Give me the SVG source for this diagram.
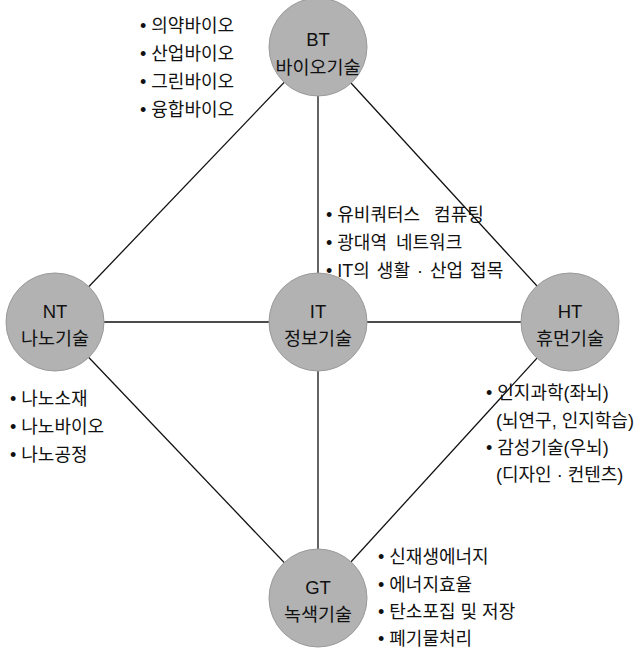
<svg xmlns="http://www.w3.org/2000/svg" width="636" height="653" viewBox="0 0 636 653">
<style>
.ln{stroke:#111;stroke-width:1.3;fill:none}
.c{fill:#b2b2b2;stroke:#9a9a9a;stroke-width:1}
.ct{font-family:"Liberation Sans","Noto Sans CJK KR",sans-serif;font-size:18.5px;fill:#111;text-anchor:middle}
.t{font-family:"Liberation Sans","Noto Sans CJK KR",sans-serif;font-size:18px;fill:#111}
</style>
<rect width="636" height="653" fill="#fff"/>
<g id="connectors">
<line class="ln" x1="318" y1="47" x2="55" y2="322"/>
<line class="ln" x1="318" y1="47" x2="570" y2="322"/>
<line class="ln" x1="55" y1="322" x2="318" y2="598"/>
<line class="ln" x1="570" y1="322" x2="318" y2="598"/>
<line class="ln" x1="318" y1="47" x2="318" y2="598"/>
<line class="ln" x1="55" y1="322" x2="570" y2="322"/>
</g>
<g id="BT">
<circle class="c" cx="318" cy="47" r="49"/>
<text class="ct" x="318" y="46">BT</text>
<text class="ct" x="318" y="74">바이오기술</text>
</g>
<g id="NT">
<circle class="c" cx="55" cy="322" r="49"/>
<text class="ct" x="55" y="318">NT</text>
<text class="ct" x="55" y="345">나노기술</text>
</g>
<g id="IT">
<circle class="c" cx="318" cy="322" r="49"/>
<text class="ct" x="318" y="318">IT</text>
<text class="ct" x="318" y="345">정보기술</text>
</g>
<g id="HT">
<circle class="c" cx="570" cy="322" r="49"/>
<text class="ct" x="570" y="318">HT</text>
<text class="ct" x="570" y="345">휴먼기술</text>
</g>
<g id="GT">
<circle class="c" cx="318" cy="598" r="49"/>
<text class="ct" x="318" y="594">GT</text>
<text class="ct" x="318" y="621">녹색기술</text>
</g>
<g id="bt-list" class="t">
<text x="140" y="32">• 의약바이오</text>
<text x="140" y="60">• 산업바이오</text>
<text x="140" y="88">• 그린바이오</text>
<text x="140" y="116">• 융합바이오</text>
</g>
<g id="it-list" class="t">
<text x="326" y="221">• <tspan word-spacing="9">유비쿼터스 컴퓨팅</tspan></text>
<text x="326" y="249">• <tspan word-spacing="4">광대역 네트워크</tspan></text>
<text x="326" y="277">• <tspan word-spacing="2">IT의 생활 · 산업 접목</tspan></text>
</g>
<g id="nt-list" class="t">
<text x="10" y="405">• 나노소재</text>
<text x="10" y="433">• 나노바이오</text>
<text x="10" y="461">• 나노공정</text>
</g>
<g id="ht-list" class="t">
<text x="486" y="399">• 인지과학(좌뇌)</text>
<text x="496" y="427">(뇌연구, 인지학습)</text>
<text x="486" y="454">• 감성기술(우뇌)</text>
<text x="496" y="481">(디자인 · 컨텐츠)</text>
</g>
<g id="gt-list" class="t">
<text x="378" y="563">• 신재생에너지</text>
<text x="378" y="591">• 에너지효율</text>
<text x="378" y="618">• 탄소포집 및 저장</text>
<text x="378" y="645">• 폐기물처리</text>
</g>
</svg>
